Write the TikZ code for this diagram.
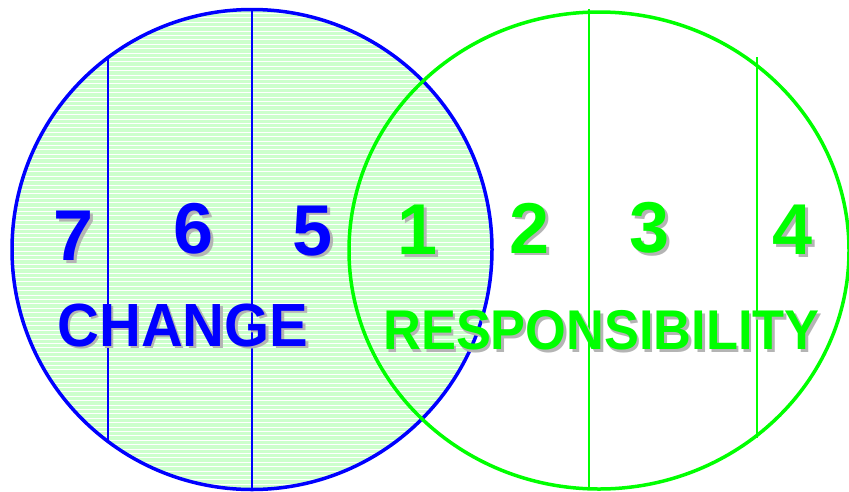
\documentclass[tikz,border=0pt]{standalone}
\usepackage{fontspec}
\setmainfont{Liberation Sans}
\definecolor{bl}{RGB}{0,0,255}
\definecolor{gr}{RGB}{0,255,0}
\definecolor{pale}{RGB}{204,255,204}
\definecolor{shad}{RGB}{180,180,180}
\begin{document}
\begin{tikzpicture}[x=1pt,y=-1pt,
  num/.style={font=\fontsize{72}{72}\selectfont\bfseries, inner sep=0pt},
  word/.style={font=\fontsize{61}{61}\selectfont\bfseries, inner sep=0pt, xscale=0.95},
  wordr/.style={font=\fontsize{56}{56}\selectfont\bfseries, inner sep=0pt, xscale=0.935},
  sh/.style={text=shad},
  divb/.style={bl, line width=1.5pt},
  divg/.style={gr, line width=1.5pt}]
\useasboundingbox (0,0) rectangle (849,491);
% striped fill of the blue circle
\begin{scope}
  \clip (252,249.5) circle (240);
  \fill[pale] (10,8) rectangle (494,492);
  \foreach \i in {0,...,110} \draw[white, line width=0.9pt] (0,{9+4.4*\i}) -- (500,{9+4.4*\i});
\end{scope}
% divider lines
\draw[divb] (108,58) -- (108,441);
\draw[divb] (252,9) -- (252,490);
\draw[divg] (589,9) -- (589,490);
\draw[divg] (757,57) -- (757,438);
% outlines
\draw[bl, line width=3.5pt] (252,249.5) circle (240);
\draw[gr, line width=3.5pt] (599,250.5) ellipse [x radius=250, y radius=238.5];
% numbers with shadows
\foreach \t/\x/\y/\c/\n in {7/74/236/bl/n7, 6/194/229/bl/n6, 5/313/231/bl/n5, 1/418/230/gr/n1, 2/530/228/gr/n2, 3/650/228/gr/n3, 4/793/230/gr/n4}{
  \node[num, sh] (\n s) at (\x+2.5,\y+2.5) {\t};
  \node[num, text=\c] (\n) at (\x,\y) {\t};
}
\node[word, sh] (changes) at (185.5,327.5) {CHANGE};
\node[word, text=bl] (change) at (183,325) {CHANGE};
\node[wordr, sh] (resps) at (604,333) {RESPONSIBILITY};
\node[wordr, text=gr] (resp) at (601.5,330.5) {RESPONSIBILITY};
\end{tikzpicture}
\end{document}
